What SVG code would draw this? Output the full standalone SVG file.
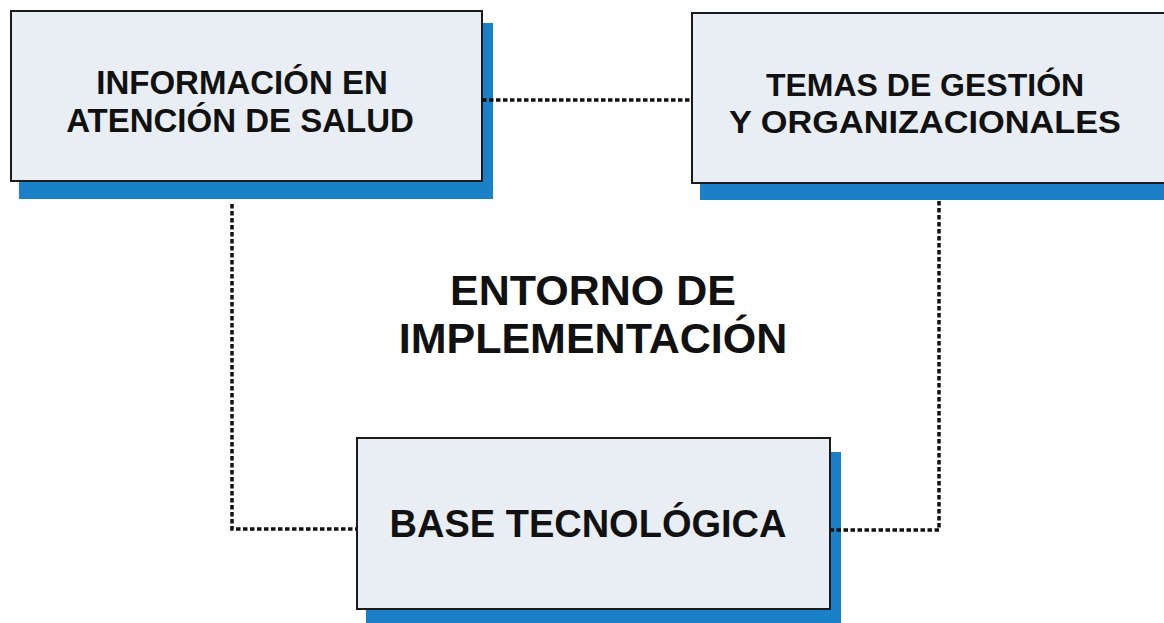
<svg xmlns="http://www.w3.org/2000/svg" width="1164" height="623" viewBox="0 0 1164 623">
<style>
.shadow{fill:#1a80c8}
.box{fill:#e9eef5;stroke:#1a1a1a;stroke-width:2}
.t{font-family:"Liberation Sans",Arial,sans-serif;font-weight:bold;fill:#111;text-anchor:middle}
.con{fill:none;stroke:#111;stroke-width:3.5;stroke-dasharray:4.5 2.5}
</style>
<rect width="1164" height="623" fill="#ffffff"/>
<g id="node-informacion">
<rect class="shadow" x="19" y="23" width="474" height="176"/>
<rect class="box" x="11" y="11" width="471" height="170"/>
<text class="t" font-size="33" x="242" y="94">INFORMACIÓN EN</text>
<text class="t" font-size="33" x="240" y="132">ATENCIÓN DE SALUD</text>
</g>
<g id="node-temas">
<rect class="shadow" x="700" y="25" width="470" height="175"/>
<rect class="box" x="692" y="13" width="480" height="170"/>
<text class="t" font-size="32" x="925" y="96">TEMAS DE GESTIÓN</text>
<text class="t" font-size="32" x="925" y="133" textLength="392" lengthAdjust="spacingAndGlyphs">Y ORGANIZACIONALES</text>
</g>
<g id="node-base">
<rect class="shadow" x="366" y="452" width="475" height="180"/>
<rect class="box" x="357" y="438" width="473" height="171"/>
<text class="t" font-size="38" x="588" y="537">BASE TECNOLÓGICA</text>
</g>
<g id="label-entorno">
<text class="t" font-size="43" x="593" y="305">ENTORNO DE</text>
<text class="t" font-size="43" x="593" y="353">IMPLEMENTACIÓN</text>
</g>
<g id="connectors">
<path class="con" d="M482,100 H692"/>
<path class="con" d="M232,204 V529 H357"/>
<path class="con" d="M939,201 V530 H831"/>
</g>
</svg>
